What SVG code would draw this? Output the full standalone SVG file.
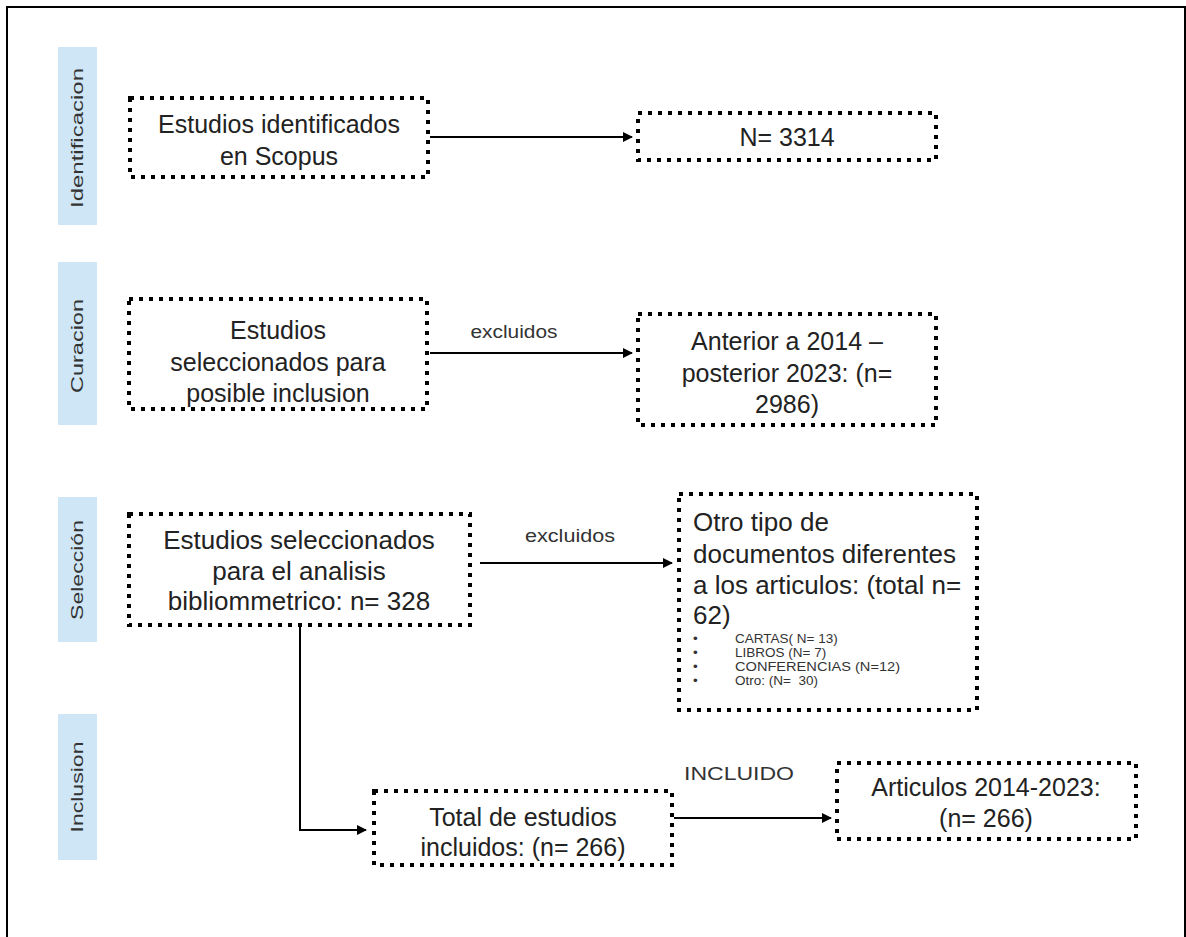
<svg xmlns="http://www.w3.org/2000/svg" width="1186" height="937" viewBox="0 0 1186 937">
  <style>
    .frame { fill: none; stroke: #000; stroke-width: 2; }
    .phase rect { fill: #cfe6f6; }
    .phase text { font-family: "Liberation Sans", Arial, sans-serif; font-size: 17px; fill: #333; text-anchor: middle; }
    .node rect { fill: #fff; stroke: #000; stroke-width: 4; stroke-dasharray: 4 6; }
    .node text { font-family: "Liberation Sans", Arial, sans-serif; font-size: 25px; fill: #222; }
    .node text.big { font-size: 26px; }
    .c { text-anchor: middle; }
    .node text.small { font-size: 13.5px; fill: #333; }
    .conn path { fill: none; stroke: #000; stroke-width: 2; }
    .lbl { font-family: "Liberation Sans", Arial, sans-serif; font-size: 18px; fill: #333; text-anchor: middle; }
  </style>
  <defs>
    <marker id="arr" viewBox="0 0 10 10" refX="9" refY="5" markerWidth="5" markerHeight="5" orient="auto" markerUnits="strokeWidth">
      <path d="M0,0 L10,5 L0,10 z" fill="#000"/>
    </marker>
  </defs>
  <rect x="0" y="0" width="1186" height="937" fill="#fff"/>
  <path class="frame" d="M7,937 V7 H1185 V937"/>

  <g class="phase" id="phase-identificacion">
    <rect x="58" y="47" width="39" height="178"/>
    <text transform="translate(83,138) rotate(-90)" textLength="140" lengthAdjust="spacingAndGlyphs">Identificacion</text>
  </g>
  <g class="phase" id="phase-curacion">
    <rect x="58" y="262" width="39" height="163"/>
    <text transform="translate(83,346) rotate(-90)" textLength="94" lengthAdjust="spacingAndGlyphs">Curacion</text>
  </g>
  <g class="phase" id="phase-seleccion">
    <rect x="58" y="497" width="39" height="145"/>
    <text transform="translate(83,570) rotate(-90)" textLength="100" lengthAdjust="spacingAndGlyphs">Selección</text>
  </g>
  <g class="phase" id="phase-inclusion">
    <rect x="58" y="714" width="39" height="146"/>
    <text transform="translate(83,787) rotate(-90)" textLength="91" lengthAdjust="spacingAndGlyphs">Inclusion</text>
  </g>

  <g class="conn" id="connectors">
    <path d="M430,137 H632" marker-end="url(#arr)"/>
    <path d="M430,353 H632" marker-end="url(#arr)"/>
    <path d="M480,563 H672" marker-end="url(#arr)"/>
    <path d="M300,626 V830 H366" marker-end="url(#arr)"/>
    <path d="M674,818 H831" marker-end="url(#arr)"/>
    <text class="lbl" x="514" y="338" textLength="87" lengthAdjust="spacingAndGlyphs">excluidos</text>
    <text class="lbl" x="570" y="542" textLength="90" lengthAdjust="spacingAndGlyphs">excluidos</text>
    <text class="lbl" x="739" y="780" textLength="110" lengthAdjust="spacingAndGlyphs">INCLUIDO</text>
  </g>

  <g class="node" id="n1">
    <rect x="130" y="98" width="298" height="79"/>
    <text class="c" x="279" y="133">Estudios identificados</text>
    <text class="c" x="279" y="165">en Scopus</text>
  </g>
  <g class="node" id="n2">
    <rect x="638" y="113" width="298" height="47"/>
    <text class="c" x="787" y="146">N= 3314</text>
  </g>
  <g class="node" id="n3">
    <rect x="129" y="299" width="298" height="110"/>
    <text class="c" x="278" y="339">Estudios</text>
    <text class="c" x="278" y="371">seleccionados para</text>
    <text class="c" x="278" y="402">posible inclusion</text>
  </g>
  <g class="node" id="n4">
    <rect x="638" y="314" width="298" height="111"/>
    <text class="c" x="787" y="350">Anterior a 2014 –</text>
    <text class="c" x="787" y="382">posterior 2023: (n=</text>
    <text class="c" x="787" y="413">2986)</text>
  </g>
  <g class="node" id="n5">
    <rect x="129" y="514" width="341" height="111"/>
    <text class="c big" x="299" y="549">Estudios seleccionados</text>
    <text class="c big" x="299" y="580">para el analisis</text>
    <text class="c big" x="299" y="610">bibliommetrico: n= 328</text>
  </g>
  <g class="node" id="n6">
    <rect x="679" y="494" width="298" height="216"/>
    <text class="big" x="693" y="531">Otro tipo de</text>
    <text class="big" x="693" y="563">documentos diferentes</text>
    <text class="big" x="693" y="594">a los articulos: (total n=</text>
    <text class="big" x="693" y="624">62)</text>
    <text class="small" x="693" y="643">•</text>
    <text class="small" x="735" y="643">CARTAS( N= 13)</text>
    <text class="small" x="693" y="657">•</text>
    <text class="small" x="735" y="657">LIBROS (N= 7)</text>
    <text class="small" x="693" y="671">•</text>
    <text class="small" x="735" y="671" textLength="165" lengthAdjust="spacingAndGlyphs">CONFERENCIAS (N=12)</text>
    <text class="small" x="693" y="685">•</text>
    <text class="small" x="735" y="685" xml:space="preserve">Otro: (N=  30)</text>
  </g>
  <g class="node" id="n7">
    <rect x="374" y="791" width="298" height="74"/>
    <text class="c" x="523" y="826">Total de estudios</text>
    <text class="c" x="523" y="856">incluidos: (n= 266)</text>
  </g>
  <g class="node" id="n8">
    <rect x="837" y="763" width="299" height="76"/>
    <text class="c" x="986" y="796">Articulos 2014-2023:</text>
    <text class="c" x="986" y="827">(n= 266)</text>
  </g>
</svg>
